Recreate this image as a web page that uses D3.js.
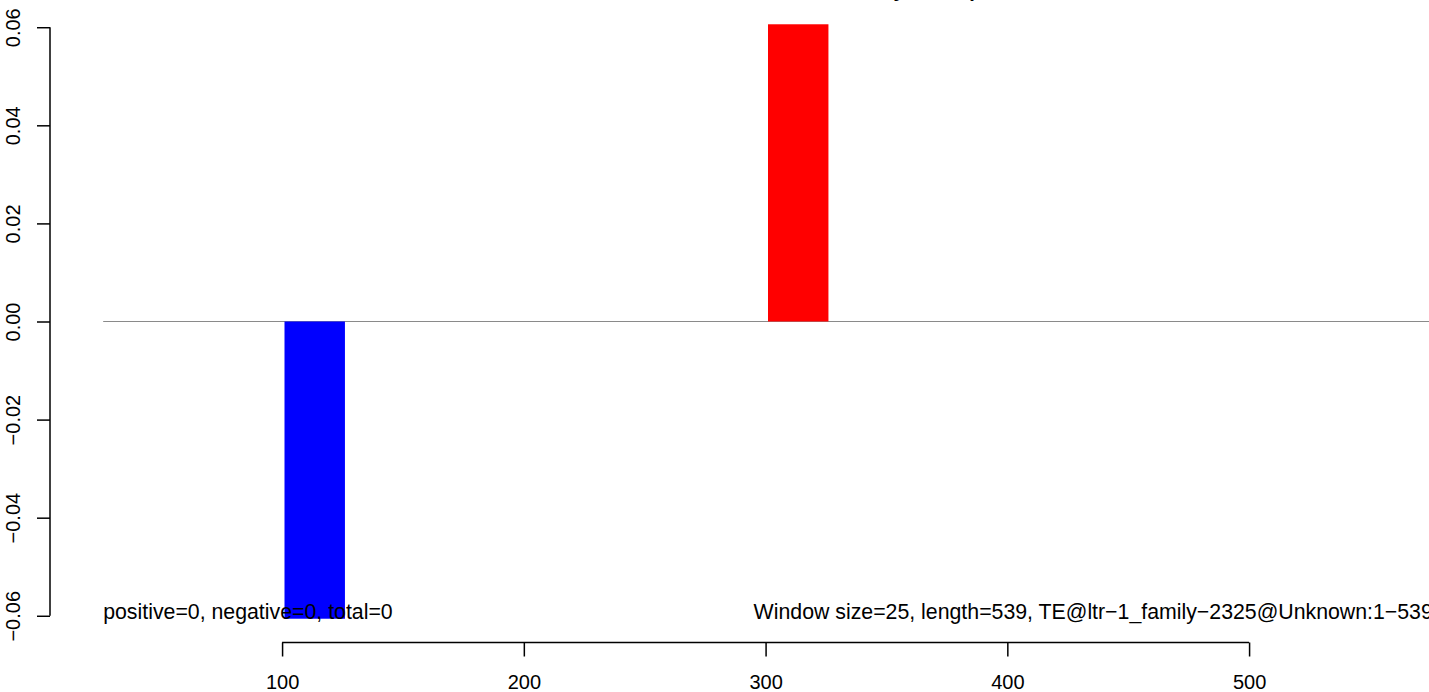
<!DOCTYPE html>
<html><head><meta charset="utf-8">
<script src="https://cdn.jsdelivr.net/npm/d3@7"></script>
<style>html,body{margin:0;padding:0;background:#fff;overflow:hidden}</style>
</head><body><svg id="c" width="1429" height="692"></svg>
<script>
// ---- data ----
const barStarts = [101, 301];
const barValues = [-0.0606, 0.0606];
const windowSize = 25;
const xTicks = [100, 200, 300, 400, 500];
const yTicks = [-0.06, -0.04, -0.02, 0, 0.02, 0.04, 0.06];
const yTickLabels = ["\u22120.06", "\u22120.04", "\u22120.02", "0.00", "0.02", "0.04", "0.06"];
const xLim = [26, 576];
const yLim = [-0.0606, 0.0606];
const titleText = "Normalized small RNA read density overlap";
const leftNote = "positive=0, negative=0, total=0";
const rightNote = "Window size=25, length=539, TE@ltr\u22121_family\u22122325@Unknown:1\u2212539";

// ---- layout ----
const W = 1429, H = 692;
const font = "'Liberation Sans', Arial, Helvetica, sans-serif";
const svg = d3.select("#c");
svg.append("rect").attr("width", W).attr("height", H).attr("fill", "#fff");

const ext = (l) => { const d = (l[1] - l[0]) * 0.04; return [l[0] - d, l[1] + d]; };
const x = d3.scaleLinear().domain(ext(xLim)).range([50, 1486]);
const y = d3.scaleLinear().domain(ext(yLim)).range([642.5, 0.5]);

// zero line
svg.append("line")
  .attr("x1", x(xLim[0])).attr("x2", x(xLim[1]))
  .attr("y1", y(0)).attr("y2", y(0))
  .attr("stroke", "#8a8a8a").attr("stroke-width", 1.2);

// bars
const bars = barStarts.map((s, i) => ({ s, v: barValues[i] }));
svg.selectAll("rect.bar").data(bars).enter().append("rect")
  .attr("class", "bar")
  .attr("x", d => x(d.s))
  .attr("width", d => x(d.s + windowSize) - x(d.s))
  .attr("y", d => y(Math.max(0, d.v)))
  .attr("height", d => Math.abs(y(d.v) - y(0)))
  .attr("fill", d => d.v < 0 ? "#0000FF" : "#FF0000");

// notes
svg.append("text").attr("x", x(xLim[0])).attr("y", y(-0.06) + 3)
  .attr("font-family", font).attr("font-size", 21.3).attr("fill", "#000")
  .text(leftNote);
svg.append("text").attr("x", x(xLim[1])).attr("y", y(-0.06) + 3)
  .attr("text-anchor", "end")
  .attr("font-family", font).attr("font-size", 21.3).attr("fill", "#000")
  .text(rightNote);

// x axis
const gx = svg.append("g").attr("transform", `translate(0,${y.range()[0]})`)
  .call(d3.axisBottom(x).tickValues(xTicks).tickSize(14).tickPadding(18).tickFormat(d3.format("d")));
gx.select(".domain").remove();
gx.append("line").attr("x1", x(xTicks[0])).attr("x2", x(xTicks[xTicks.length - 1]))
  .attr("stroke", "#000").attr("stroke-width", 1.5);
gx.selectAll(".tick line").attr("stroke", "#000").attr("stroke-width", 1.5);
gx.selectAll(".tick text").attr("font-family", font).attr("font-size", 20).attr("fill", "#000");

// y axis
const gy = svg.append("g").attr("transform", `translate(${x.range()[0]},0)`)
  .call(d3.axisLeft(y).tickValues(yTicks).tickSize(13).tickFormat((d, i) => yTickLabels[i]));
gy.select(".domain").remove();
gy.append("line").attr("y1", y(yTicks[0])).attr("y2", y(yTicks[yTicks.length - 1]))
  .attr("stroke", "#000").attr("stroke-width", 1.5);
gy.selectAll(".tick line").attr("stroke", "#000").attr("stroke-width", 1.5);
gy.selectAll(".tick text")
  .attr("font-family", font).attr("font-size", 20).attr("fill", "#000")
  .attr("text-anchor", "middle").attr("dy", null)
  .attr("x", 0).attr("y", -30)
  .attr("transform", "rotate(-90)");

// title (mostly cropped above the frame)
const cx = (x.range()[0] + x.range()[1]) / 2;
const title = svg.append("text").attr("x", cx).attr("y", -3)
  .attr("text-anchor", "middle").attr("font-family", font)
  .attr("font-weight", "bold").attr("font-size", 20).attr("fill", "#000")
  .text(titleText);
try {
  const n = title.node();
  const ey = n.getExtentOfChar(titleText.indexOf("y"));
  const ep = n.getExtentOfChar(titleText.lastIndexOf("p"));
  const mid = (ey.x + ey.width / 2 + ep.x + ep.width / 2) / 2;
  title.attr("x", cx + (x(371) - mid));
} catch (e) {}
</script></body></html>
